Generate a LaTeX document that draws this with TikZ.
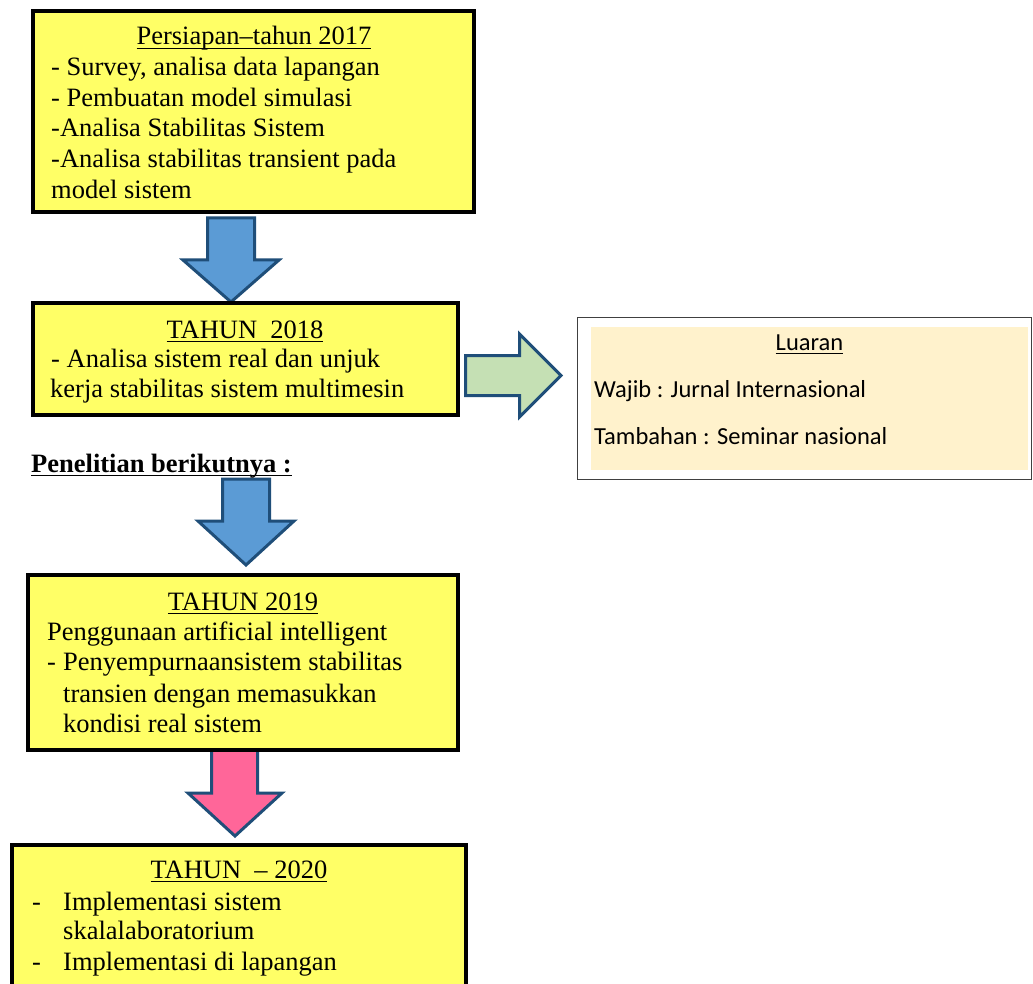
\documentclass[tikz,border=0pt]{standalone}
\usepackage{fontspec}
\setmainfont{Liberation Serif}
\newfontfamily\calib{Carlito}
\newcommand\myul[1]{\setbox0\hbox{#1}\rlap{\vrule width\wd0 height -2.6pt depth 4.2pt}\box0}
\definecolor{boxyellow}{HTML}{FFFF66}
\definecolor{arrblue}{HTML}{5B9BD5}
\definecolor{arrborder}{HTML}{1F4E79}
\definecolor{arrpink}{HTML}{FF6699}
\definecolor{arrgreen}{HTML}{C5E0B4}
\definecolor{luarfill}{HTML}{FFF2CC}
\begin{document}
\begin{tikzpicture}[x=1pt,y=-1pt,
  ybox/.style={draw=black,line width=4pt,fill=boxyellow,rectangle,inner sep=0pt,outer sep=0pt,anchor=north west},
  blockarr/.style={draw=arrborder,line width=3pt,line join=miter},
  txt/.style={anchor=base west,inner sep=0pt,font=\fontsize{26.5}{30}\selectfont},
  ttl/.style={anchor=base,inner sep=0pt,font=\fontsize{26.5}{30}\selectfont},
  ctxt/.style={anchor=base west,inner sep=0pt,font=\calib\fontsize{24.5}{28}\selectfont}]
\useasboundingbox (0,0) rectangle (1033,984);
\fill[white] (0,0) rectangle (1033,984);

% block arrows (drawn first, boxes on top)
\draw[blockarr,fill=arrblue] (207.5,218) -- (207.5,260) -- (183,260) -- (231,302) -- (279,260) -- (254.5,260) -- (254.5,218) -- cycle;
\draw[blockarr,fill=arrblue] (222.5,479) -- (222.5,521) -- (198,521) -- (246,565) -- (294,521) -- (269.5,521) -- (269.5,479) -- cycle;
\draw[blockarr,fill=arrpink] (211.5,748) -- (211.5,793) -- (188,793) -- (235,836) -- (282,793) -- (257.5,793) -- (257.5,748) -- cycle;
\draw[blockarr,fill=arrgreen] (465.5,355.5) -- (519.5,355.5) -- (519.5,334) -- (561,375.5) -- (519.5,417) -- (519.5,395.5) -- (465.5,395.5) -- cycle;

% box 1
\node[ybox,minimum width=441pt,minimum height=201pt] (b1) at (33,11) {};
\node[ttl] (b1t) at (254,45) {\myul{Persiapan–tahun 2017}};
\node[txt] (b1l1) at (51,76) {- Survey, analisa data lapangan};
\node[txt] (b1l2) at (51,107) {- Pembuatan model simulasi};
\node[txt] (b1l3) at (51,137) {-Analisa Stabilitas Sistem};
\node[txt] (b1l4) at (51,168) {-Analisa stabilitas transient pada};
\node[txt] (b1l5) at (51,199) {model sistem};

% box 2
\node[ybox,minimum width=425pt,minimum height=112pt] (b2) at (33,303) {};
\node[ttl] (b2t) at (245,338) {\myul{TAHUN\ \ 2018}};
\node[txt] (b2l1) at (51,367) {- Analisa sistem real dan unjuk};
\node[txt] (b2l2) at (50,397) {kerja stabilitas sistem multimesin};

% heading
\node[txt] (pen) at (31,472) {\bfseries\myul{Penelitian berikutnya :}};

% box 3
\node[ybox,minimum width=430pt,minimum height=175pt] (b3) at (28,575) {};
\node[ttl] (b3t) at (243,610) {\myul{TAHUN 2019}};
\node[txt] (b3l1) at (47,640) {Penggunaan artificial intelligent};
\node[txt] (b3l2) at (47,670) {-};
\node[txt] (b3l2b) at (63,670) {Penyempurnaansistem stabilitas};
\node[txt] (b3l3) at (63,702) {transien dengan memasukkan};
\node[txt] (b3l4) at (63,732) {kondisi real sistem};

% box 4
\node[ybox,minimum width=454pt,minimum height=160pt] (b4) at (12,845) {};
\node[ttl] (b4t) at (239,878) {\myul{TAHUN\ \ – 2020}};
\node[txt] (b4d1) at (32,910) {-};
\node[txt] (b4l1) at (63,910) {Implementasi sistem};
\node[txt] (b4l2) at (63,939) {skalalaboratorium};
\node[txt] (b4d2) at (32,970) {-};
\node[txt] (b4l3) at (63,970) {Implementasi di lapangan};

% Luaran box
\node[draw=black!75,line width=1.3pt,fill=white,rectangle,inner sep=0pt,outer sep=0pt,anchor=north west,minimum width=454pt,minimum height=162pt] (lb) at (577.5,317.5) {};
\node[fill=luarfill,rectangle,inner sep=0pt,anchor=north west,minimum width=437pt,minimum height=143pt] (lf) at (591,327) {};
\node[ctxt,anchor=base] (lt) at (809.5,350) {\myul{Luaran}};
\node[ctxt] (l1) at (594,397) {Wajib : Jurnal Internasional};
\node[ctxt] (l2) at (594,444) {Tambahan : Seminar nasional};
\end{tikzpicture}
\end{document}
